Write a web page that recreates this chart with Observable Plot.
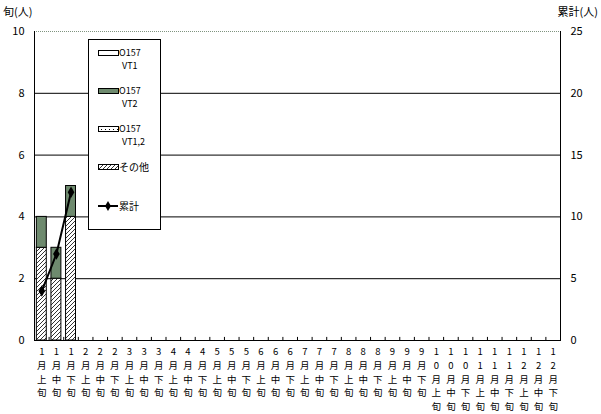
<!DOCTYPE html>
<html>
<head>
<meta charset="utf-8">
<script src="https://cdn.jsdelivr.net/npm/d3@7"></script>
<script src="https://cdn.jsdelivr.net/npm/@observablehq/plot@0.6"></script>
<style>
  html, body { margin: 0; padding: 0; background: #fff; }
  svg { display: block; }
</style>
</head>
<body>
<div id="chart"></div>
<script>
// ---- data ----
const months = ["1","2","3","4","5","6","7","8","9","10","11","12"];
const parts = ["上","中","下"];
const categories = months.flatMap(m => parts.map(p => m + "月" + p + "旬"));
const dataCategories = ["1月上旬", "1月中旬", "1月下旬"];
const seriesNames = ["O157 VT1", "O157 VT2", "O157 VT1,2", "その他"];
const vt1 = [0, 0, 0];
const vt2 = [1, 1, 1];
const vt12 = [0, 0, 0];
const other = [3, 2, 4];
const cumulative = [4, 7, 12];
const leftTicks = [0, 2, 4, 6, 8, 10];
const rightMax = 25;
const leftMax = 10;

// ---- table ----
const stackOrder = ["その他", "O157 VT1,2", "O157 VT2", "O157 VT1"]; // bottom to top
const seriesValues = {"O157 VT1": vt1, "O157 VT2": vt2, "O157 VT1,2": vt12, "その他": other};
const rows = [];
dataCategories.forEach((c, i) => {
  stackOrder.forEach(s => {
    if (seriesValues[s][i] > 0) rows.push({cat: c, series: s, value: seriesValues[s][i]});
  });
});
const cumRows = dataCategories.map((c, i) => ({cat: c, cum: cumulative[i]}));

const W = 601, H = 414, mL = 34, mR = 41, mT = 31, mB = 74;
const step = (W - mL - mR) / categories.length;
const font = "'Noto Sans CJK JP', 'Noto Sans', sans-serif";
const fillMap = {"O157 VT1": "#ffffff", "O157 VT2": "#6e8a6e", "O157 VT1,2": "url(#dots)", "その他": "url(#hatch)"};

const plot = Plot.plot({
  width: W, height: H,
  marginLeft: mL, marginRight: mR, marginTop: mT, marginBottom: mB,
  style: {fontFamily: font, fontSize: "11px", background: "#fff", color: "#000"},
  x: {domain: categories, paddingInner: 0.32, paddingOuter: 0.16, round: false, label: null},
  y: {domain: [0, leftMax], label: null},
  color: {domain: seriesNames, range: seriesNames.map(s => fillMap[s])},
  marks: [
    Plot.ruleY([2, 4, 6, 8], {stroke: "#000", strokeWidth: 1}),
    Plot.ruleY([leftMax], {stroke: "#7f947f", strokeWidth: 1, strokeDasharray: "1,1"}),
    Plot.barY(rows, {x: "cat", y: "value", fill: "series", order: stackOrder, stroke: "#000", strokeWidth: 1}),
    Plot.frame({anchor: "left", stroke: "#000"}),
    Plot.frame({anchor: "right", stroke: "#000"}),
    Plot.frame({anchor: "bottom", stroke: "#000"}),
    Plot.ruleX(categories, {x: d => d, y1: 0, y2: 0.1, dx: step / 2, stroke: "#000"}),
    Plot.lineY(cumRows, {x: "cat", y: d => d.cum * leftMax / rightMax, stroke: "#000", strokeWidth: 2}),
    Plot.dot(cumRows, {x: "cat", y: d => d.cum * leftMax / rightMax, symbol: "diamond", r: 3.5, fill: "#000", stroke: "none"}),
    Plot.axisY({anchor: "left", ticks: leftTicks, tickSize: 0, tickPadding: 10, label: null}),
    Plot.axisY({anchor: "right", ticks: leftTicks, tickSize: 0, tickPadding: 10, tickFormat: d => d * rightMax / leftMax, label: null}),
    Plot.axisX({anchor: "bottom", tickSize: 0, tickPadding: 5, fontSize: 9.5, lineHeight: 1.447, tickFormat: d => [...d].join("\n"), label: null})
  ]
});

const svg = d3.select(plot);
const defs = svg.insert("defs", ":first-child");
const hatch = defs.append("pattern").attr("id", "hatch").attr("patternUnits", "userSpaceOnUse")
  .attr("width", 4).attr("height", 4);
hatch.append("rect").attr("width", 4).attr("height", 4).attr("fill", "#fff");
hatch.append("path").attr("d", "M-1,1 l2,-2 M0,4 l4,-4 M3,5 l2,-2").attr("stroke", "#000").attr("stroke-width", 0.8);
const dots = defs.append("pattern").attr("id", "dots").attr("patternUnits", "userSpaceOnUse")
  .attr("width", 4).attr("height", 4);
dots.append("rect").attr("width", 4).attr("height", 4).attr("fill", "#fff");
dots.append("rect").attr("x", 1).attr("y", 1).attr("width", 1).attr("height", 1).attr("fill", "#000");

// axis titles
svg.append("text").attr("x", 3).attr("y", 16).attr("text-anchor", "start").attr("font-family", font).attr("font-size", 11).text("旬(人)");
svg.append("text").attr("x", 598).attr("y", 16).attr("text-anchor", "end").attr("font-family", font).attr("font-size", 11).text("累計(人)");

// legend
const lg = svg.append("g").attr("font-family", font).attr("font-size", 9).attr("text-anchor", "start");
lg.append("rect").attr("x", 88.5).attr("y", 39.5).attr("width", 72).attr("height", 190).attr("fill", "#fff").attr("stroke", "#000");
const legendItems = [
  {name: "O157 VT1", lines: ["O157", "VT1"], y: 53},
  {name: "O157 VT2", lines: ["O157", "VT2"], y: 91},
  {name: "O157 VT1,2", lines: ["O157", "VT1,2"], y: 129},
  {name: "その他", lines: ["その他"], y: 167}
];
legendItems.forEach(it => {
  lg.append("rect").attr("x", 98.5).attr("y", it.y - 2.5).attr("width", 20).attr("height", 5)
    .attr("fill", fillMap[it.name]).attr("stroke", "#000");
  it.lines.forEach((t, j) => {
    lg.append("text").attr("x", j === 0 ? 119 : 122).attr("y", it.y + j * 13).attr("dy", "0.35em")
      .attr("font-size", it.name === "その他" ? 10 : 9).text(t);
  });
});
lg.append("line").attr("x1", 98).attr("x2", 118).attr("y1", 206).attr("y2", 206).attr("stroke", "#000").attr("stroke-width", 2);
lg.append("path").attr("d", d3.symbol(d3.symbolDiamond, 30)()).attr("transform", "translate(108,206)").attr("fill", "#000");
lg.append("text").attr("x", 119).attr("y", 206).attr("dy", "0.35em").attr("font-size", 10).text("累計");

document.getElementById("chart").appendChild(plot);
</script>
</body>
</html>
